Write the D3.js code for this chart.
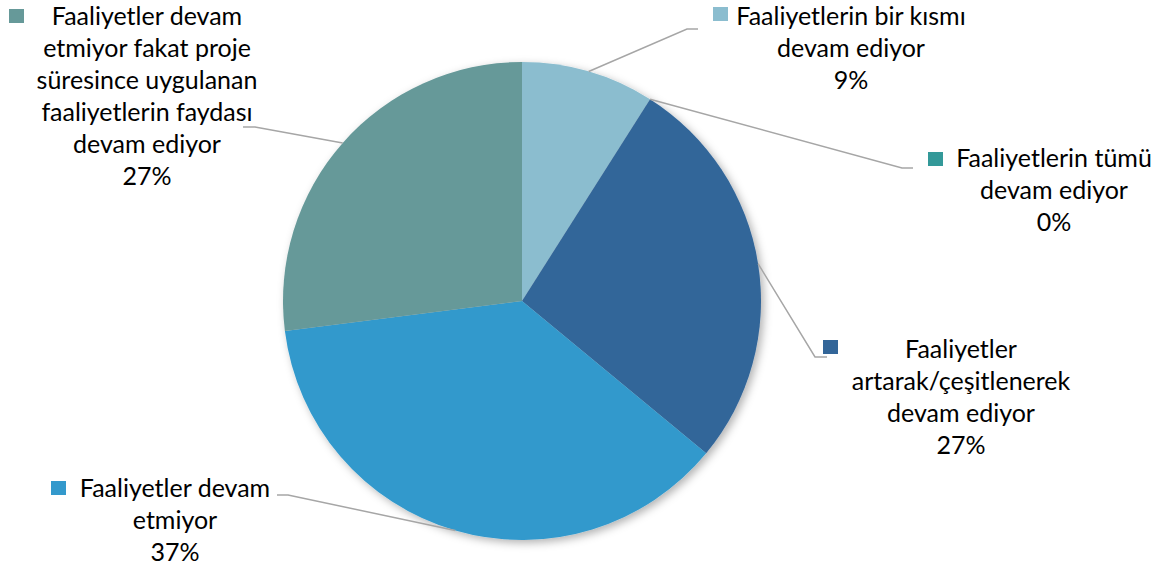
<!DOCTYPE html>
<html><head><meta charset="utf-8">
<script src="https://cdn.jsdelivr.net/npm/d3@7"></script>
<style>
html,body{margin:0;padding:0;background:#fff;}
svg{display:block;}
text{font-family:Lato,"Open Sans",sans-serif;fill:#000;}
</style></head>
<body>
<svg id="chart" width="1168" height="571"></svg>
<script>
// Data
const categories = [
  "Faaliyetlerin bir kısmı devam ediyor",
  "Faaliyetlerin tümü devam ediyor",
  "Faaliyetler artarak/çeşitlenerek devam ediyor",
  "Faaliyetler devam etmiyor",
  "Faaliyetler devam etmiyor fakat proje süresince uygulanan faaliyetlerin faydası devam ediyor"
];
const values = [9, 0, 27, 37, 27];
const percentLabels = ["9%", "0%", "27%", "37%", "27%"];
const labelLines = [
  ["Faaliyetlerin bir kısmı", "devam ediyor"],
  ["Faaliyetlerin tümü", "devam ediyor"],
  ["Faaliyetler", "artarak/çeşitlenerek", "devam ediyor"],
  ["Faaliyetler devam", "etmiyor"],
  ["Faaliyetler devam", "etmiyor fakat proje", "süresince uygulanan", "faaliyetlerin faydası", "devam ediyor"]
];
const colors = ["#8BBDCF", "#339999", "#336699", "#3399CC", "#669999"];

// Layout (label placement)
const cx = 522, cy = 301, R = 239;
const labelLayout = [
  {tx: 851, ty: 25, sx: 713, sy: 7,  ex: 687, ey: 29, hx: 698},
  {tx: 1054, ty: 167, sx: 928, sy: 152, ex: 902, ey: 168, hx: 913},
  {tx: 961, ty: 358, sx: 823, sy: 340, ex: 815, ey: 357, hx: 827},
  {tx: 175, ty: 497, sx: 51, sy: 481, ex: 288, ey: 495, hx: 277},
  {tx: 147, ty: 25, sx: 9, sy: 9, ex: 255, ey: 127, hx: 243}
];
const lineH = 32;
const fontSize = 25;

const svg = d3.select("#chart");
const defs = svg.append("defs");
const f = defs.append("filter").attr("id","shadow").attr("x","-20%").attr("y","-20%").attr("width","140%").attr("height","140%");
f.append("feDropShadow").attr("dx",3).attr("dy",3).attr("stdDeviation",4).attr("flood-color","#000").attr("flood-opacity",0.3);

const pie = d3.pie().value(d => d).sort(null);
const arcs = pie(values);
const arc = d3.arc().innerRadius(0).outerRadius(R);

const g = svg.append("g").attr("transform", `translate(${cx},${cy})`);
g.append("g").attr("filter","url(#shadow)")
  .selectAll("path").data(arcs).join("path")
  .attr("d", arc)
  .attr("fill", (d,i) => colors[i]);

function edgePoint(d){
  const a = (d.startAngle + d.endAngle)/2;
  return [cx + R*Math.sin(a), cy - R*Math.cos(a)];
}
arcs.forEach((d,i) => {
  const L = labelLayout[i];
  const p = edgePoint(d);
  svg.append("polyline")
    .attr("points", [[p[0],p[1]],[L.ex,L.ey],[L.hx,L.ey]].map(q=>q.join(",")).join(" "))
    .attr("fill","none").attr("stroke","#A6A6A6").attr("stroke-width",1.5);
});

arcs.forEach((d,i) => {
  const L = labelLayout[i];
  svg.append("rect").attr("x",L.sx).attr("y",L.sy).attr("width",15).attr("height",14).attr("fill",colors[i]);
  const lines = labelLines[i].concat([percentLabels[i]]);
  const t = svg.append("text").attr("text-anchor","middle").attr("font-size",fontSize);
  lines.forEach((ln,k) => {
    t.append("tspan").attr("x",L.tx).attr("y",L.ty + k*lineH).text(ln);
  });
});
</script>
</body></html>
